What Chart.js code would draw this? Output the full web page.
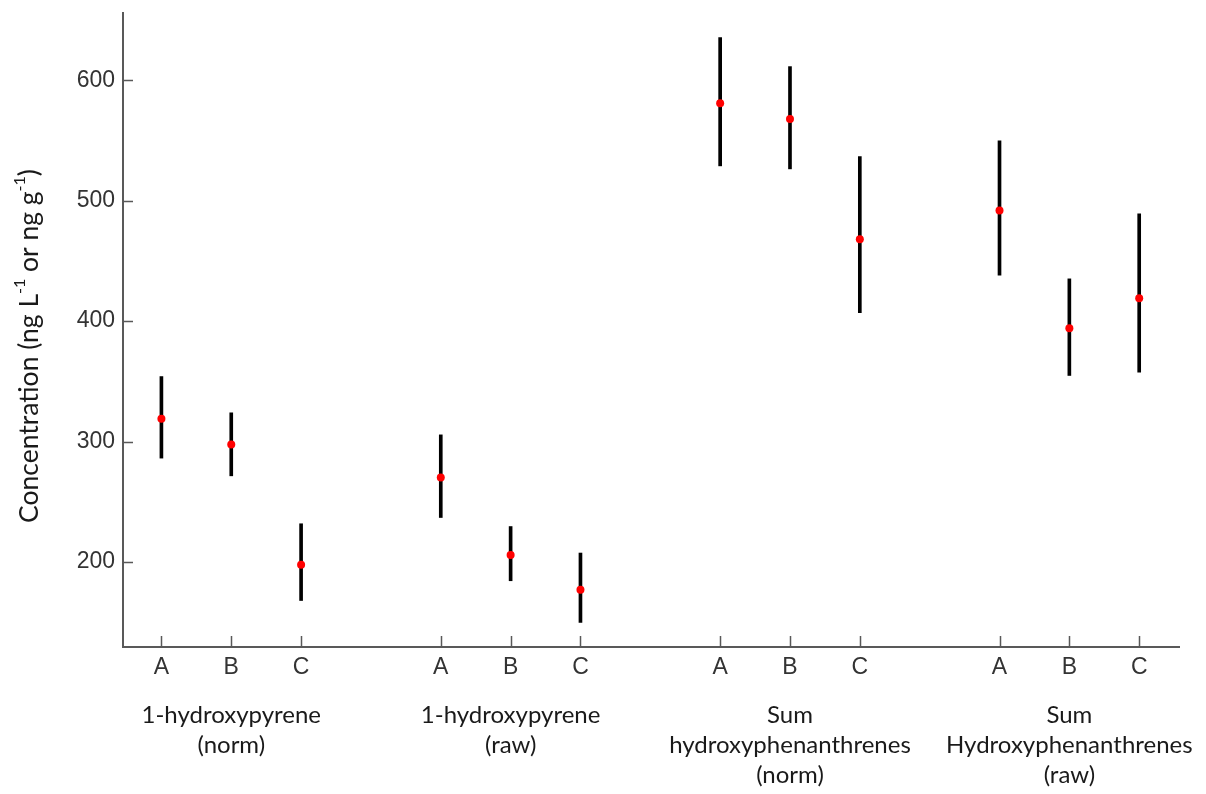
<!DOCTYPE html>
<html>
<head>
<meta charset="utf-8">
<script src="https://cdn.jsdelivr.net/npm/chart.js@4/dist/chart.umd.min.js"></script>
<style>
  html, body { margin: 0; padding: 0; background: #fff; }
  canvas { display: block; }
</style>
</head>
<body>
<canvas id="c" width="1206" height="794"></canvas>
<script>
// ---- data ----
const categories = ['A', 'B', 'C'];
const groupLabels = [
  ['1-hydroxypyrene', '(norm)'],
  ['1-hydroxypyrene', '(raw)'],
  ['Sum', 'hydroxyphenanthrenes', '(norm)'],
  ['Sum', 'Hydroxyphenanthrenes', '(raw)']
];
const means = [319, 297.6, 197.8, 270.2, 205.8, 177, 580.9, 567.9, 468, 491.8, 394.2, 419.1];
const lower = [286.3, 271.6, 168.1, 237, 184.5, 149.9, 528.9, 526.4, 407.1, 438.2, 354.9, 357.7];
const upper = [354, 323.9, 231.8, 305.6, 229.5, 207.5, 635.4, 611.3, 536.6, 549.6, 435.1, 489];
const yTickValues = [200, 300, 400, 500, 600];
const yTitleParts = [['Concentration (ng L', false], ['-1', true], [' or ng g', false], ['-1', true], [')', false]];

// x slot of each point: groups of three categories separated by one empty slot
const slotOf = i => Math.floor(i / categories.length) * (categories.length + 1) + (i % categories.length) + 1;
const xTicks = means.map((_, i) => slotOf(i));
const xTickLabel = {};
means.forEach((_, i) => { xTickLabel[slotOf(i)] = categories[i % categories.length]; });

const meanPoints = means.map((m, i) => ({ x: slotOf(i), y: m }));
const barPoints = means.map((_, i) => ({ x: slotOf(i), y: [lower[i], upper[i]] }));

const AXIS_COLOR = '#595959';

const decorPlugin = {
  id: 'decor',
  afterDraw(chart) {
    const ctx = chart.ctx;
    const xs = chart.scales.x, ys = chart.scales.y;
    const area = chart.chartArea;
    ctx.save();
    // inward ticks
    ctx.strokeStyle = AXIS_COLOR;
    ctx.lineWidth = 1.5;
    ctx.beginPath();
    ys.ticks.forEach(t => {
      const y = Math.round(ys.getPixelForValue(t.value)) + 0.5;
      ctx.moveTo(area.left, y); ctx.lineTo(area.left + 10, y);
    });
    xs.ticks.forEach(t => {
      const x = Math.round(xs.getPixelForValue(t.value)) + 0.5;
      ctx.moveTo(x, area.bottom); ctx.lineTo(x, area.bottom - 11);
    });
    ctx.stroke();

    // group labels
    ctx.fillStyle = '#1a1a1a';
    ctx.font = '24px Lato';
    ctx.textAlign = 'center';
    ctx.textBaseline = 'alphabetic';
    groupLabels.forEach((lines, g) => {
      const center = xs.getPixelForValue(slotOf(g * categories.length + 1));
      lines.forEach((line, k) => {
        ctx.fillText(line, center, area.bottom + 76 + k * 30);
      });
    });

    // y axis title with superscripts
    const mainFont = '26.5px Lato', supFont = '16px Lato';
    let total = 0;
    yTitleParts.forEach(([t, sup]) => { ctx.font = sup ? supFont : mainFont; total += ctx.measureText(t).width; });
    ctx.translate(29, 346);
    ctx.rotate(-Math.PI / 2);
    ctx.textAlign = 'left';
    ctx.textBaseline = 'middle';
    let pos = -total / 2;
    yTitleParts.forEach(([t, sup]) => {
      ctx.font = sup ? supFont : mainFont;
      ctx.fillText(t, pos, sup ? -9 : 0);
      pos += ctx.measureText(t).width;
    });
    ctx.restore();
  }
};

new Chart(document.getElementById('c'), {
  type: 'scatter',
  data: {
    datasets: [
      {
        type: 'scatter',
        data: meanPoints,
        pointRadius: 4,
        pointBackgroundColor: '#ff0000',
        pointBorderWidth: 0,
        order: 0
      },
      {
        type: 'bar',
        data: barPoints,
        backgroundColor: '#000000',
        barThickness: 3,
        borderWidth: 0,
        order: 1
      }
    ]
  },
  options: {
    responsive: false,
    animation: false,
    layout: { padding: { top: 13, right: 27, left: 0, bottom: 0 } },
    plugins: { legend: { display: false }, tooltip: { enabled: false } },
    scales: {
      x: {
        type: 'linear',
        offset: false,
        min: 0.45,
        max: 15.57,
        afterFit(s) { s.height = 147; s.paddingLeft = 0; s.paddingRight = 0; },
        afterBuildTicks(s) { s.ticks = xTicks.map(v => ({ value: v })); },
        grid: { display: false, drawTicks: false, offset: false },
        border: { display: true, color: AXIS_COLOR, width: 2 },
        ticks: {
          padding: 7,
          autoSkip: false,
          maxRotation: 0,
          color: '#333',
          font: { family: 'Liberation Sans', size: 23 },
          callback: v => xTickLabel[v] || ''
        }
      },
      y: {
        type: 'linear',
        min: 129.5,
        max: 655.8,
        afterFit(s) { s.width = 123; s.paddingTop = 0; s.paddingBottom = 0; },
        afterBuildTicks(s) { s.ticks = yTickValues.map(v => ({ value: v })); },
        grid: { display: false, drawTicks: false },
        border: { display: true, color: AXIS_COLOR, width: 2 },
        ticks: {
          padding: 8,
          color: '#333',
          font: { family: 'Liberation Sans', size: 23 }
        }
      }
    }
  },
  plugins: [decorPlugin]
});
</script>
</body>
</html>
